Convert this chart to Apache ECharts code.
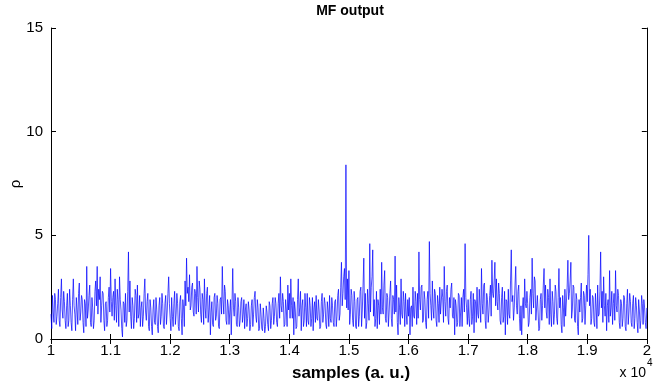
<!DOCTYPE html>
<html><head><meta charset="utf-8">
<script src="https://cdn.jsdelivr.net/npm/echarts@6/dist/echarts.min.js"></script>
<style>html,body{margin:0;padding:0;background:#fff}#c{width:654px;height:386px}</style>
</head><body><div id="c"></div>
<script>
// sample positions: first sample and spacing between read-off points
const xStart = 10000, xStep = 12.5;
// rho values, one pair of arrays per 0.1e4 interval
// (segNN = points on the 25-sample grid, midNN = points halfway between them)
const seg10 = [1.2,2.1,0.8,1.9,1.1,2.4,0.6,2.9,1.0,1.8,0.5,2.2,0.9,1.6,0.4,2.9,1.2,2.0,0.7,2.7,1.3,1.9,0.3,1.7,3.5,1.4,2.6,0.6,1.5,0.9,2.8,3.5,2.4,3.0,1.6,2.2,0.4,1.8,0.9,2.5];
const mid10 = [0.5,1.3,2.2,0.7,1.7,0.9,2.0,1.4,2.3,0.9,1.6,0.6,2.4,0.8,1.9,1.6,0.4,1.4,2.2,0.9,2.1,0.8,1.9,0.6,1.0,2.1,0.8,2.0,0.5,2.3,1.6,1.2,1.9,0.8,2.3,0.9,1.7,0.6,2.0,1.3];
const seg11 = [3.4,1.1,2.3,2.9,0.8,1.9,3.0,1.4,0.1,1.7,2.2,0.9,4.2,2.8,0.5,1.6,1.0,2.1,2.6,1.2,0.6,1.8,1.1,2.9,0.9,2.2,0.4,1.5,0.2,1.9,0.7,1.4,0.3,2.0,1.1,1.7,0.5,2.1,1.3,3.0];
const mid11 = [1.8,2.0,0.9,1.6,2.4,0.6,1.9,0.5,1.8,0.8,0.6,2.3,1.3,1.1,2.0,0.5,2.4,0.8,1.0,2.1,1.5,0.6,2.2,1.3,1.8,0.6,1.9,0.6,1.4,0.8,2.0,0.6,1.6,0.7,2.2,0.6,1.7,0.7,2.2,1.7];
const seg12 = [1.0,2.0,0.6,2.3,1.2,1.7,0.4,2.1,0.2,1.5,2.8,3.9,2.5,3.1,1.6,2.7,1.1,2.2,3.5,1.3,2.4,0.8,1.9,2.9,1.0,2.5,1.4,0.2,1.8,0.6,2.2,1.1,1.7,0.5,2.0,3.5,1.2,2.3,0.7,1.6];
const mid12 = [0.4,1.1,1.7,0.7,2.2,0.6,1.8,1.0,1.9,0.6,1.6,2.2,1.8,1.4,2.5,1.3,2.4,1.2,2.0,2.8,1.2,2.2,0.7,1.5,2.2,0.8,2.1,1.3,0.7,2.0,0.9,2.1,0.6,1.9,1.2,1.9,2.6,0.9,1.9,0.7];
const seg13 = [1.3,0.2,3.4,1.1,1.8,0.6,1.5,0.9,2.0,1.2,0.5,1.7,1.0,1.4,0.7,1.9,1.2,2.3,0.8,1.5,0.5,1.2,0.4,1.0,0.6,1.3,0.4,1.6,0.9,2.0,1.1,1.7,0.6,2.2,3.0,1.3,1.8,0.7,1.4,2.6];
const mid13 = [1.9,1.6,1.5,2.2,0.7,2.0,0.6,1.8,0.8,1.9,1.4,0.6,1.8,0.4,1.6,0.6,2.0,1.1,1.9,0.4,1.7,0.5,1.5,0.3,1.6,0.7,1.8,0.5,1.7,0.7,2.0,0.8,1.7,1.0,1.6,2.2,0.6,1.9,0.6,1.4];
const seg14 = [2.2,2.9,1.0,0.2,1.4,0.6,2.9,1.5,0.4,1.9,0.9,1.5,2.2,0.7,1.6,1.0,0.4,1.8,2.1,0.9,1.4,0.6,2.2,1.2,1.7,0.5,1.4,2.1,0.8,1.6,0.6,1.9,1.1,2.4,1.2,3.7,2.2,3.4,8.4,2.9];
const mid14 = [1.0,1.6,2.0,1.8,0.5,1.9,1.1,2.3,1.6,0.6,2.2,0.6,0.9,2.0,0.6,2.0,1.5,0.8,1.0,1.9,0.5,1.8,0.8,2.0,0.7,1.8,0.6,1.0,2.0,0.8,1.8,0.6,2.1,0.9,2.5,1.6,3.0,1.9,1.5,1.4];
const seg15 = [3.3,1.2,2.1,0.6,1.8,0.5,2.0,1.1,2.5,1.4,3.9,2.2,0.8,1.7,4.6,2.5,4.3,1.9,1.0,0.5,1.6,2.4,3.7,1.2,3.3,0.8,2.0,1.3,2.8,0.6,1.9,4.0,2.6,0.2,1.5,2.9,1.0,1.8,2.2,0.7];
const mid15 = [0.7,2.4,0.9,2.3,0.6,1.9,0.6,2.3,0.6,2.6,1.0,0.5,2.4,0.9,1.3,3.0,1.1,0.6,2.3,1.9,0.7,1.2,1.5,2.6,1.0,2.2,0.6,2.2,1.0,2.1,1.2,1.3,0.8,2.0,0.7,1.2,2.3,0.6,1.2,1.9];
const seg16 = [1.1,0.2,1.6,2.5,1.0,1.8,2.2,4.2,1.4,2.6,0.9,1.9,0.5,2.3,4.7,1.6,2.8,1.0,2.2,0.6,1.7,2.5,1.2,2.0,3.5,1.1,2.6,0.7,1.5,2.7,1.0,0.2,1.6,0.8,2.1,1.3,0.6,2.4,4.6,1.5];
const mid16 = [2.0,1.5,0.6,1.1,2.3,0.7,1.0,1.9,2.5,0.8,2.3,0.8,1.9,1.0,2.2,0.9,1.5,2.4,0.9,2.1,0.8,1.2,2.4,0.8,1.8,2.3,1.0,2.0,2.4,1.1,2.0,1.9,0.6,2.2,0.6,2.0,2.0,1.3,2.0,0.7];
const seg17 = [1.9,0.6,2.3,1.1,0.3,1.8,2.5,1.0,1.6,3.4,1.2,2.7,0.5,1.9,1.3,2.6,3.8,2.0,3.7,2.9,1.4,2.2,0.7,2.5,1.1,0.2,1.8,2.4,1.0,4.3,2.1,1.5,3.5,1.2,2.6,0.4,0.2,2.0,2.9,1.5];
const mid17 = [1.0,1.9,0.7,2.2,1.9,0.8,1.2,2.4,0.8,1.7,2.6,0.9,2.2,0.8,2.1,1.1,2.2,2.8,1.6,1.8,2.7,0.9,2.0,0.8,2.3,1.9,0.7,1.2,2.8,1.8,0.9,2.6,1.6,2.3,1.0,1.6,1.5,1.0,1.7,2.3];
const seg18 = [1.7,0.8,2.4,3.9,1.5,2.8,0.9,1.3,0.5,2.2,1.6,3.4,2.6,1.0,2.0,2.9,0.6,1.8,1.2,2.3,0.7,3.4,2.0,0.3,1.5,2.4,1.1,3.8,2.2,3.7,1.4,2.5,0.8,1.9,0.2,1.3,2.7,1.0,2.1,1.6];
const mid18 = [0.6,2.0,1.2,2.2,3.0,0.9,2.1,0.4,1.9,0.9,2.6,1.5,1.3,2.4,0.7,1.2,2.3,0.7,2.6,1.0,2.0,1.5,0.7,2.1,0.6,1.1,2.5,1.9,2.8,1.0,2.6,0.9,2.2,0.6,1.9,2.0,0.8,2.3,0.7,2.6];
const seg19 = [1.8,5.0,2.4,1.0,2.0,0.6,1.5,2.6,1.2,4.2,2.3,3.0,1.1,0.4,1.9,3.3,1.5,0.7,2.2,3.3,1.3,2.1,0.5,1.7,1.0,2.0,0.4,2.4,1.3,1.8,0.6,2.1,1.0,1.6,0.3,1.4,0.9,1.7,1.9,0.8,1.5];
const mid19 = [3.1,1.6,0.7,2.1,0.8,2.2,0.5,1.1,2.3,1.5,0.8,1.6,2.2,1.6,0.8,1.1,2.3,1.7,0.9,1.6,2.4,0.8,1.9,0.6,2.1,0.6,1.7,0.7,2.2,0.8,1.7,0.5,2.0,0.8,1.9,0.5,2.1,0.7,1.5,0.5];
const xTickLabels = ['1','1.1','1.2','1.3','1.4','1.5','1.6','1.7','1.8','1.9','2'];
const yTickLabels = ['0','5','10','15'];

const segs = [seg10,seg11,seg12,seg13,seg14,seg15,seg16,seg17,seg18,seg19];
const mids = [mid10,mid11,mid12,mid13,mid14,mid15,mid16,mid17,mid18,mid19];
const rho = [];
segs.forEach((s, k) => {
  s.forEach((v, i) => { rho.push(v); if (i < mids[k].length) rho.push(mids[k][i]); });
});
const data = rho.map((v,i)=>[xStart + xStep*i, v]);

const FONT = "'Liberation Sans', Arial, Helvetica, sans-serif";
const chart = echarts.init(document.getElementById('c'), null, {renderer:'canvas'});
const xCommon = {
  type:'value', min:10000, max:20000, interval:1000,
  axisLine:{show:true, lineStyle:{color:'#000', width:1}},
  axisTick:{show:true, inside:true, length:5, lineStyle:{color:'#000'}},
  splitLine:{show:false}
};
const yCommon = {
  type:'value', min:0, max:15, interval:5,
  axisLine:{show:true, lineStyle:{color:'#000', width:1}},
  axisTick:{show:true, inside:true, length:5, lineStyle:{color:'#000'}},
  splitLine:{show:false}
};
chart.setOption({
  animation:false,
  backgroundColor:'#fff',
  grid:{left:51, right:4, top:28, bottom:47, containLabel:false},
  xAxis:[
    Object.assign({}, xCommon, {position:'bottom',
      axisLabel:{show:true, margin:4, color:'#000', fontSize:15, fontFamily:FONT,
        formatter:(v)=>xTickLabels[Math.round((v-10000)/1000)]}}),
    Object.assign({}, xCommon, {position:'top', axisLabel:{show:false}})
  ],
  yAxis:[
    Object.assign({}, yCommon, {position:'left',
      axisLabel:{show:true, margin:8, color:'#000', fontSize:15, fontFamily:FONT,
        formatter:(v)=>yTickLabels[Math.round(v/5)]}}),
    Object.assign({}, yCommon, {position:'right', axisLabel:{show:false}})
  ],
  series:[{
    type:'line', data:data, xAxisIndex:0, yAxisIndex:0,
    showSymbol:false, symbol:'none', sampling:null,
    lineStyle:{color:'#0000ff', width:0.7}
  }],
  graphic:[
    {type:'text', style:{text:'MF output', x:350, y:11, fill:'#000',
      font:"bold 14px 'Liberation Sans', Arial, sans-serif", textAlign:'center', textVerticalAlign:'middle'}},
    {type:'text', style:{text:'samples (a. u.)', x:351, y:373, fill:'#000',
      font:"bold 17px 'Liberation Sans', Arial, sans-serif", textAlign:'center', textVerticalAlign:'middle'}},
    {type:'text', rotation:Math.PI/2, x:16, y:184, style:{text:'ρ', x:0, y:0, fill:'#000',
      font:"15px 'Liberation Sans', Arial, sans-serif", textAlign:'center', textVerticalAlign:'middle'}},
    {type:'text', style:{text:'x 10', x:646, y:373, fill:'#000',
      font:"14px 'Liberation Sans', Arial, sans-serif", textAlign:'right', textVerticalAlign:'middle'}},
    {type:'text', style:{text:'4', x:647, y:363, fill:'#000',
      font:"10px 'Liberation Sans', Arial, sans-serif", textAlign:'left', textVerticalAlign:'middle'}}
  ]
});
</script>
</body></html>
